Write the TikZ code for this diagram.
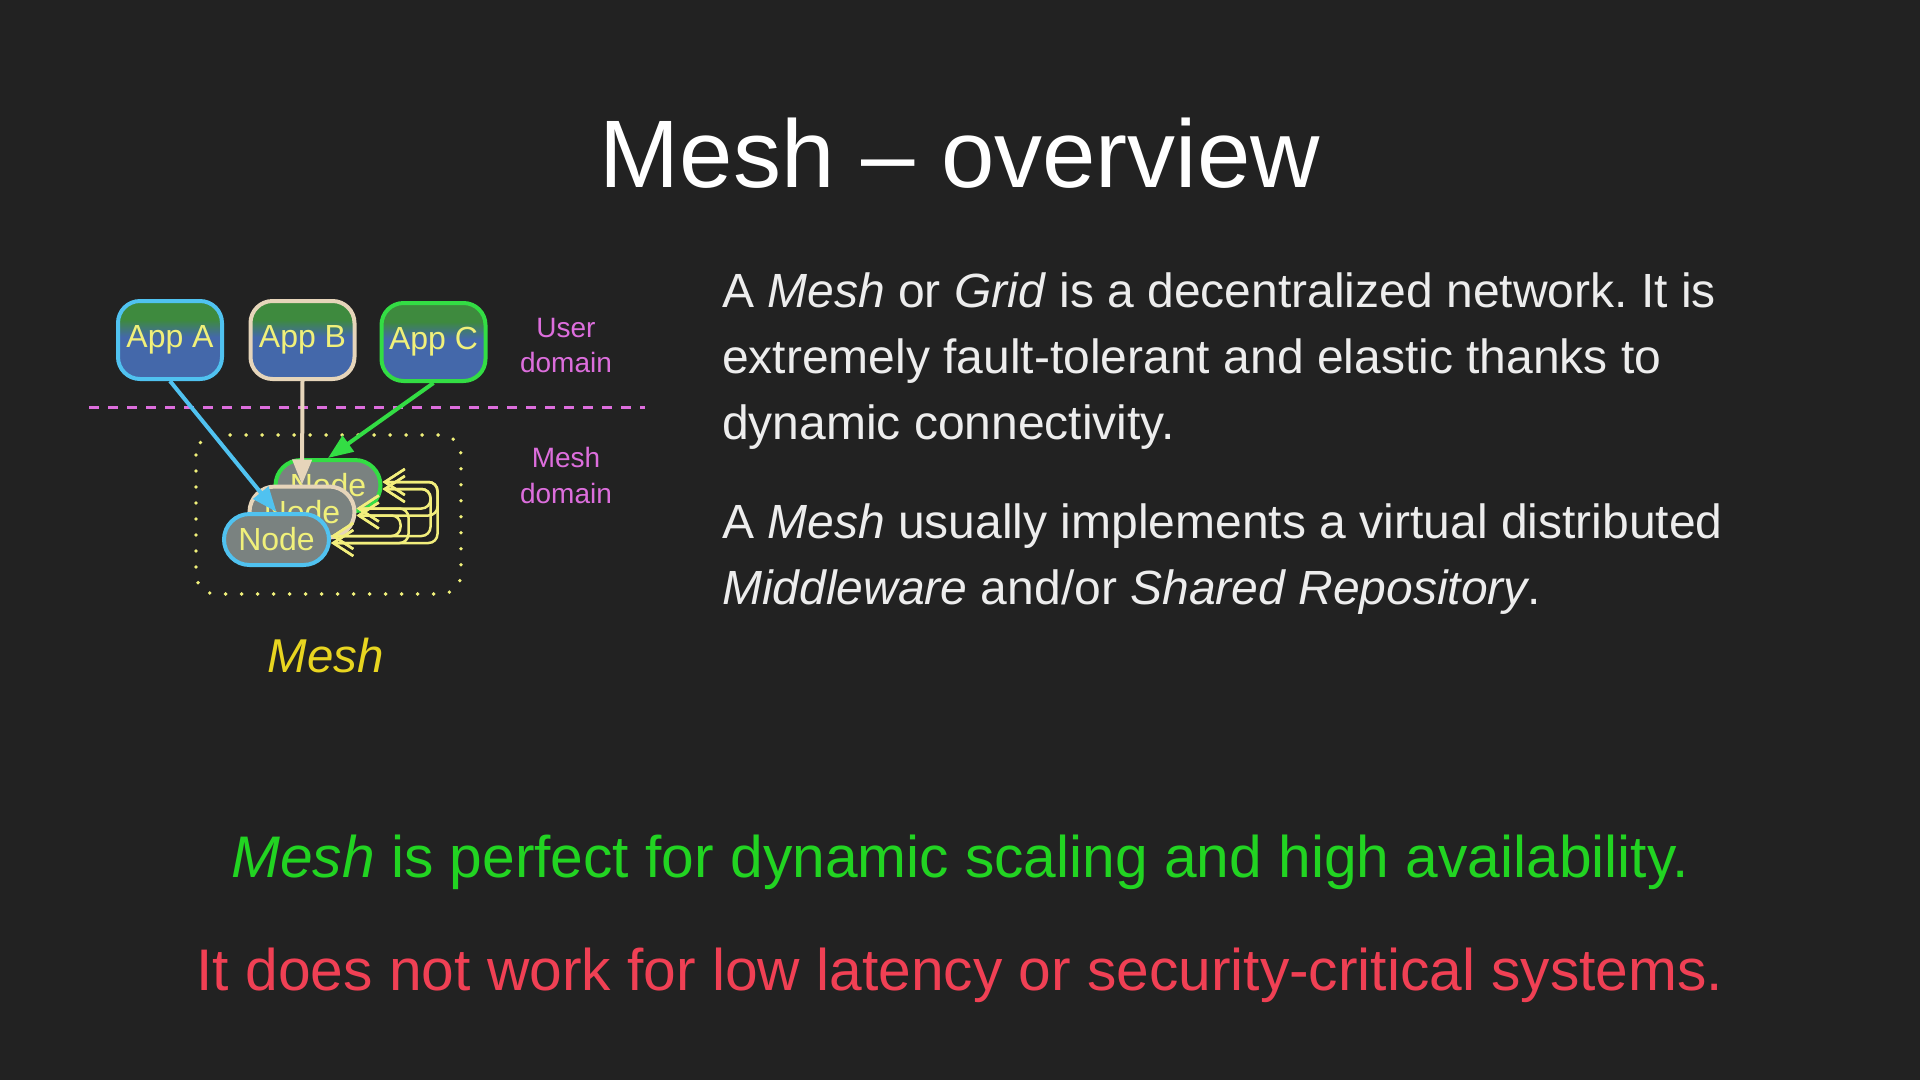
\documentclass[tikz,border=0pt]{standalone}
\usepackage{fontspec}
\setmainfont{Liberation Sans}
\usetikzlibrary{arrows.meta,shapes.misc}
\definecolor{bg}{HTML}{222222}
\definecolor{appblue}{HTML}{4468AA}
\definecolor{appgreen}{HTML}{3E8A3E}
\definecolor{nodegray}{HTML}{7A8280}
\definecolor{ytext}{HTML}{F0F07A}
\definecolor{yloop}{HTML}{F2EE7C}
\definecolor{cblue}{HTML}{50C2F0}
\definecolor{cbeige}{HTML}{E6D5BA}
\definecolor{cgreen}{HTML}{33DD44}
\definecolor{magenta2}{HTML}{DD6EDD}
\definecolor{meshgold}{HTML}{E8D520}
\definecolor{okgreen}{HTML}{22D422}
\definecolor{badred}{HTML}{F04054}
\definecolor{bodytext}{HTML}{EDEDED}
\pgfdeclareverticalshading{appshade}{100bp}{color(0bp)=(appblue); color(52bp)=(appblue); color(63bp)=(appgreen); color(100bp)=(appgreen)}
\frenchspacing
\begin{document}
\begin{tikzpicture}[x=1pt,y=-1pt,
  appbox/.style={shape=rectangle, rounded corners=22pt, shade, shading=appshade,
    line width=4pt, minimum width=104pt, minimum height=78pt, inner sep=0pt,
    text=ytext, font=\fontsize{32pt}{38pt}\selectfont},
  meshnode/.style={shape=rounded rectangle, fill=nodegray, line width=4pt,
    minimum width=105pt, minimum height=51pt, inner sep=0pt,
    text=ytext, font=\fontsize{32pt}{38pt}\selectfont},
  applink/.style={line width=4pt, -{Triangle[length=25pt,width=19pt]}},
  loopl/.style={draw=yloop, line width=2.5pt, rounded corners=9pt,
    {Straight Barb[length=20pt,width=26pt]}-{Straight Barb[length=20pt,width=26pt]}},
  domlabel/.style={anchor=base, inner sep=0pt, text=magenta2, font=\fontsize{28pt}{35pt}\selectfont},
  bodyline/.style={anchor=base west, inner sep=0pt, text=bodytext, font=\fontsize{48pt}{66pt}\selectfont},
  bigline/.style={anchor=base, inner sep=0pt, font=\fontsize{58.7pt}{70pt}\selectfont}
]
\useasboundingbox (0,0) rectangle (1920,1080);
\fill[bg] (0,0) rectangle (1920,1080);

% title
\node[anchor=base, inner sep=0pt, text=white, font=\fontsize{96pt}{110pt}\selectfont] (title) at (960,187) {Mesh – overview};

% user / mesh domain separator
\coordinate (sepL) at (89,407);
\coordinate (sepR) at (645,407);
\draw[magenta2, line width=3pt, dash pattern=on 10pt off 9pt] (sepL) -- (sepR);
\node[domlabel] (u1) at (566,337) {User};
\node[domlabel] (u2) at (566,372) {domain};
\node[domlabel] (m1) at (566,467) {Mesh};
\node[domlabel] (m2) at (566,503) {domain};

% mesh dotted border
\draw[ytext, line width=3.8pt, line cap=round, dash pattern=on 0pt off 16pt, rounded corners=20pt]
  (196,435) rectangle (461,594);

% apps
\node[appbox, draw=cblue]  (appA) at (170,340)   {App A};
\node[appbox, draw=cbeige] (appB) at (302.5,340) {App B};
\node[appbox, draw=cgreen] (appC) at (433.5,342) {App C};

% mesh nodes (back to front)
\node[meshnode, draw=cgreen] (n3) at (328,485.5) {Node};
\node[meshnode, draw=cbeige] (n2) at (302,512)   {Node};
\node[meshnode, draw=cblue]  (n1) at (276.5,539.5) {Node};

% inter-node links (double lines)
\draw[loopl] ([yshift=3.5pt]n3.east) -- ++(55,0) |- ([yshift=-3.5pt]n1.east);
\draw[loopl] ([yshift=-3.5pt]n3.east) -- ++(48,0) |- ([yshift=3.5pt]n1.east);
\draw[loopl] ([yshift=3.5pt]n3.east) -- ++(55,0) |- ([yshift=-3.5pt]n2.east);
\draw[loopl] ([yshift=-3.5pt]n3.east) -- ++(48,0) |- ([yshift=3.5pt]n2.east);
\draw[loopl] ([yshift=3.5pt]n2.east) -- ++(52,0) |- ([yshift=-3.5pt]n1.east);
\draw[loopl] ([yshift=-3.5pt]n2.east) -- ++(44,0) |- ([yshift=3.5pt]n1.east);

% app to node links
\draw[applink, cblue]  (appA.south) -- (n1.north);
\draw[applink, cbeige] (appB.south) -- (n2.north);
\draw[applink, cgreen] (appC.south) -- (n3.north);

% mesh caption
\node[anchor=base, inner sep=0pt, text=meshgold, font=\fontsize{47.5pt}{56pt}\selectfont\itshape] (meshcap) at (326,672) {Mesh};

% body text
\node[bodyline] (b1) at (722,307) {A \textit{Mesh} or \textit{Grid} is a decentralized network. It is};
\node[bodyline] (b2) at (722,373) {extremely fault-tolerant and elastic thanks to};
\node[bodyline] (b3) at (722,439) {dynamic connectivity.};
\node[bodyline] (b4) at (722,538) {A \textit{Mesh} usually implements a virtual distributed};
\node[bodyline] (b5) at (722,604) {\textit{Middleware} and/or \textit{Shared Repository}.};

% bottom statements
\node[bigline, text=okgreen] (good) at (960,877) {\textit{Mesh} is perfect for dynamic scaling and high availability.};
\node[bigline, text=badred] (bad) at (960,990) {It does not work for low latency or security-critical systems.};
\end{tikzpicture}
\end{document}
